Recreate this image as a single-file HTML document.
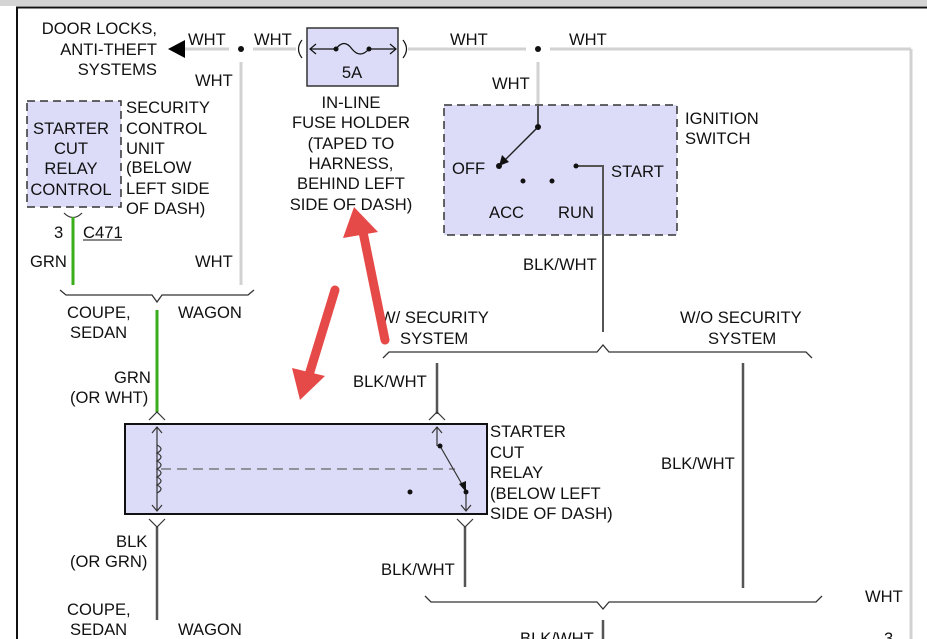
<!DOCTYPE html>
<html><head><style>
html,body{margin:0;padding:0;background:#fff;}
svg{display:block;}
text{font-family:"Liberation Sans",Arial,sans-serif;font-size:16.6px;fill:#111;}
</style></head><body>
<svg width="927" height="639" viewBox="0 0 927 639" xmlns="http://www.w3.org/2000/svg">
<rect x="0" y="0" width="927" height="6" fill="#d4d4d4"/>
<line x1="16" y1="7.5" x2="927" y2="7.5" stroke="#111" stroke-width="2"/>
<line x1="17" y1="7" x2="17" y2="639" stroke="#111" stroke-width="2"/>

<g stroke="#d2d2d2" stroke-width="3" fill="none">
<line x1="185" y1="49" x2="229" y2="49"/>
<line x1="253" y1="49" x2="296" y2="49"/>
<line x1="408" y1="49" x2="526" y2="49"/>
<line x1="550" y1="49" x2="911" y2="49"/>
<line x1="911" y1="49" x2="911" y2="639"/>
<line x1="241" y1="62" x2="241" y2="285"/>
<line x1="538" y1="62" x2="538" y2="106"/>
</g>
<polygon points="168,49 185,40 185,58" fill="#000"/>
<circle cx="241" cy="49" r="3" fill="#111"/>
<circle cx="538" cy="49" r="3" fill="#111"/>
<text x="188" y="45">WHT</text><text x="254" y="45">WHT</text>
<text x="195" y="86">WHT</text><text x="195" y="267">WHT</text>
<text x="450" y="45">WHT</text><text x="569" y="45">WHT</text>
<text x="492" y="89">WHT</text>
<text x="157" y="34" text-anchor="end">DOOR LOCKS,</text>
<text x="157" y="55" text-anchor="end">ANTI-THEFT</text>
<text x="157" y="75" text-anchor="end">SYSTEMS</text>

<rect x="307" y="28" width="91" height="58" fill="#dcdcf8" stroke="#333" stroke-width="1.5"/>
<g stroke="#111" stroke-width="1.2" fill="none">
<line x1="310" y1="49" x2="336" y2="49"/><line x1="369" y1="49" x2="396" y2="49"/>
<path d="M336 49 Q344 38 352 49 Q360 59 369 49"/>
<path d="M316 44 L310 49 L316 54 M390 44 L396 49 L390 54"/>
<path d="M302 40 Q295 49 302 58 M403 40 Q410 49 403 58"/>
</g>
<circle cx="336" cy="49" r="2.5" fill="#111"/><circle cx="369" cy="49" r="2.5" fill="#111"/>
<text x="352" y="78" text-anchor="middle">5A</text>
<g text-anchor="middle">
<text x="351" y="108">IN-LINE</text><text x="351" y="128">FUSE HOLDER</text>
<text x="351" y="149">(TAPED TO</text><text x="351" y="169">HARNESS,</text>
<text x="351" y="189">BEHIND LEFT</text><text x="351" y="210">SIDE OF DASH)</text>
</g>

<rect x="27" y="101" width="94" height="106" fill="#dcdcf8" stroke="#333" stroke-width="1.5" stroke-dasharray="8,5"/>
<g text-anchor="middle"><text x="71" y="134">STARTER</text><text x="71" y="154">CUT</text><text x="71" y="174">RELAY</text><text x="71" y="195">CONTROL</text></g>
<text x="126" y="113">SECURITY</text><text x="126" y="134">CONTROL</text><text x="126" y="154">UNIT</text>
<text x="126" y="173">(BELOW</text><text x="126" y="194">LEFT SIDE</text><text x="126" y="214">OF DASH)</text>
<path d="M64 213 Q73 222 82 213" stroke="#333" fill="none" stroke-width="1.2"/>
<line x1="73" y1="217" x2="73" y2="285" stroke="#3aae1a" stroke-width="3"/>
<text x="54" y="238">3</text><text x="83" y="238">C471</text>
<line x1="83" y1="240" x2="122" y2="240" stroke="#111" stroke-width="1"/>
<text x="30" y="267">GRN</text>

<g stroke="#333" stroke-width="1.3" fill="none">
<polyline points="60,290 66,295 152,295 157,302 162,295 248,295 254,290"/>
<polyline points="383,358 389,352 597,352 603,345 609,352 806,352 812,358"/>
<polyline points="425,596 431,602 597,602 603,609 609,602 816,602 822,596"/>
</g>
<text x="67" y="318">COUPE,</text><text x="70" y="338">SEDAN</text><text x="178" y="318">WAGON</text>
<line x1="157" y1="310" x2="157" y2="412" stroke="#3aae1a" stroke-width="3"/>
<text x="114" y="383">GRN</text><text x="70" y="403">(OR WHT)</text>

<rect x="444" y="105" width="233" height="130" fill="#dcdcf8" stroke="#333" stroke-width="1.5" stroke-dasharray="8,5"/>
<g stroke="#222" stroke-width="1.5" fill="none">
<line x1="538" y1="106" x2="538" y2="127"/>
<line x1="538" y1="127" x2="503" y2="162"/>
<polyline points="576,166 603,166 603,332" stroke="#555" stroke-width="2"/>
</g>
<polygon points="499,166 502,155 509,162" fill="#111"/>
<circle cx="538" cy="127" r="3" fill="#111"/><circle cx="499" cy="166" r="3" fill="#111"/>
<circle cx="523" cy="181" r="2.5" fill="#111"/><circle cx="552" cy="181" r="2.5" fill="#111"/>
<circle cx="576" cy="166" r="2.5" fill="#111"/>
<text x="452" y="174">OFF</text><text x="611" y="177">START</text>
<text x="489" y="218">ACC</text><text x="558" y="218">RUN</text>
<text x="685" y="124">IGNITION</text><text x="685" y="144">SWITCH</text>
<text x="523" y="270">BLK/WHT</text>

<text x="380" y="323">W/ SECURITY</text><text x="400" y="344">SYSTEM</text>
<text x="680" y="323">W/O SECURITY</text><text x="708" y="344">SYSTEM</text>

<g stroke="#555" stroke-width="2.5">
<line x1="437" y1="363" x2="437" y2="414"/>
<line x1="743" y1="363" x2="743" y2="588"/>
<line x1="465" y1="527" x2="465" y2="587"/>
<line x1="157" y1="527" x2="157" y2="620"/>
<line x1="603" y1="620" x2="603" y2="639"/>
</g>
<text x="353" y="387">BLK/WHT</text><text x="661" y="469">BLK/WHT</text>
<text x="381" y="575">BLK/WHT</text><text x="520" y="644">BLK/WHT</text>
<text x="865" y="602">WHT</text><text x="884" y="644">3</text>

<rect x="125" y="424" width="362" height="90" fill="#dcdcf8" stroke="#111" stroke-width="2"/>
<g stroke="#333" stroke-width="1.2" fill="none">
<path d="M149 420 L157 412 L165 420 M429 420 L437 412 L445 420"/>
<path d="M149 519 L157 527 L165 519 M457 519 L465 527 L473 519"/>
<line x1="157" y1="427" x2="157" y2="511"/>
<path d="M152 433 L157 427 L162 433 M152 505 L157 511 L162 505"/>
<path d="M157 445 q8 4 0 8 q8 4 0 8 q8 4 0 8 q8 4 0 8 q8 4 0 8 q8 4 0 8"/>
<line x1="161" y1="469" x2="455" y2="469" stroke="#666" stroke-dasharray="10,6"/>
<line x1="437" y1="427" x2="437" y2="446"/>
<path d="M432 433 L437 427 L442 433"/>
<line x1="440" y1="446" x2="463" y2="486"/>
<line x1="466" y1="492" x2="466" y2="511"/>
<path d="M461 505 L466 511 L471 505"/>
</g>
<polygon points="466,492 459,484 466,481" fill="#111"/>
<circle cx="440" cy="446" r="2.5" fill="#111"/><circle cx="466" cy="492" r="2.5" fill="#111"/>
<circle cx="410" cy="492" r="2.5" fill="#111"/>
<text x="490" y="437">STARTER</text><text x="490" y="458">CUT</text><text x="490" y="478">RELAY</text>
<text x="490" y="499">(BELOW LEFT</text><text x="490" y="519">SIDE OF DASH)</text>

<text x="116" y="547">BLK</text><text x="70" y="567">(OR GRN)</text>
<text x="67" y="615">COUPE,</text><text x="70" y="635">SEDAN</text><text x="178" y="635">WAGON</text>

<g fill="#e64a48">
<line x1="385" y1="340" x2="363" y2="232" stroke="#e64a48" stroke-width="9" stroke-linecap="round"/>
<polygon points="354,207 343,238 378,232"/>
<line x1="335" y1="290" x2="309" y2="375" stroke="#e64a48" stroke-width="9" stroke-linecap="round"/>
<polygon points="300,400 292,368 325,376"/>
</g>
</svg>
</body></html>
